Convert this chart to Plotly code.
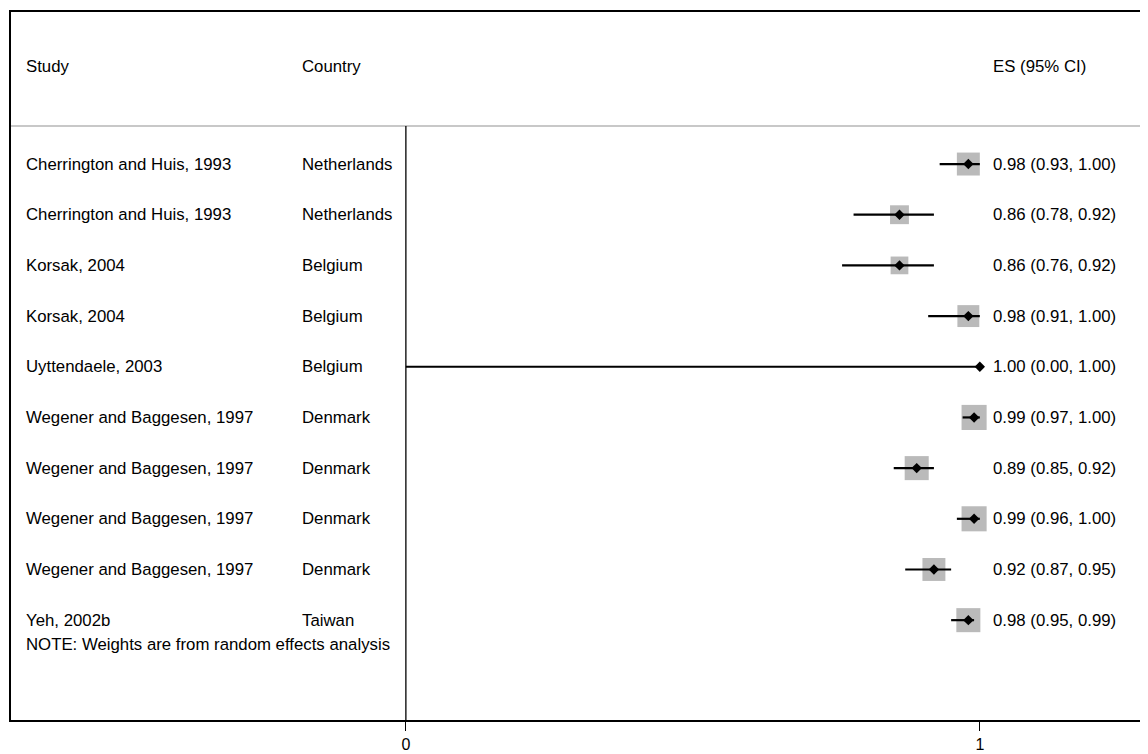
import plotly.graph_objects as go

studies = ["Cherrington and Huis, 1993", "Cherrington and Huis, 1993", "Korsak, 2004",
           "Korsak, 2004", "Uyttendaele, 2003", "Wegener and Baggesen, 1997",
           "Wegener and Baggesen, 1997", "Wegener and Baggesen, 1997",
           "Wegener and Baggesen, 1997", "Yeh, 2002b"]
countries = ["Netherlands", "Netherlands", "Belgium", "Belgium", "Belgium", "Denmark",
             "Denmark", "Denmark", "Denmark", "Taiwan"]
es = [0.98, 0.86, 0.86, 0.98, 1.00, 0.99, 0.89, 0.99, 0.92, 0.98]
lo = [0.93, 0.78, 0.76, 0.91, 0.00, 0.97, 0.85, 0.96, 0.87, 0.95]
hi = [1.00, 0.92, 0.92, 1.00, 1.00, 1.00, 0.92, 1.00, 0.95, 0.99]
weights = [11.4, 7.7, 6.8, 10.4, 0.02, 13.6, 12.5, 13.6, 11.4, 12.5]
xticks = [0, 1]
note = "NOTE: Weights are from random effects analysis"
headers = ["Study", "Country", "ES (95% CI)"]

rows = list(range(1, len(studies) + 1))
FONT = "Liberation Sans, Arial, sans-serif"

fig = go.Figure()

# weight squares (area proportional to weight)
fig.add_trace(go.Scatter(
    x=es, y=rows, mode="markers",
    marker=dict(symbol="square", size=[6.8 * w ** 0.5 for w in weights],
                color="#bababa", line=dict(width=0), opacity=1),
    hoverinfo="skip", showlegend=False))

# CI lines
cx, cy = [], []
for l, h, r in zip(lo, hi, rows):
    cx += [l, h, None]
    cy += [r, r, None]
fig.add_trace(go.Scatter(x=cx, y=cy, mode="lines",
                         line=dict(color="black", width=2.2),
                         hoverinfo="skip", showlegend=False))

# point estimates
fig.add_trace(go.Scatter(x=es, y=rows, mode="markers",
                         marker=dict(symbol="diamond", size=8, color="black"),
                         hoverinfo="skip", showlegend=False))

XS, XC, XE = -0.6655, -0.1847, 1.019
ann = []
def txt(x, y, t):
    ann.append(dict(x=x, y=y, xref="x", yref="y", text=t, showarrow=False,
                    xanchor="left", yanchor="middle",
                    font=dict(family=FONT, size=16.8, color="black")))

for xh, h in zip([XS, XC, XE], headers):
    txt(xh, -0.915, h)
for s, c, e, l, h, r in zip(studies, countries, es, lo, hi, rows):
    txt(XS, r, s)
    txt(XC, r, c)
    txt(XE, r, f"{e:.2f} ({l:.2f}, {h:.2f})")
txt(XS, 10.49, note)

# page body has an 8px margin; figure sized to fit the window
fig.update_layout(
    width=1140, height=746,
    margin=dict(l=3, r=0, t=4, b=34),
    paper_bgcolor="white", plot_bgcolor="white",
    annotations=ann,
    shapes=[
        dict(type="line", xref="paper", yref="y", x0=0, x1=1, y0=0.25, y1=0.25,
             line=dict(color="#c8c8c8", width=2)),
        dict(type="line", xref="x", yref="y", x0=0, x1=0, y0=0.25, y1=11.97,
             line=dict(color="black", width=1.3)),
    ],
)
fig.update_xaxes(range=[-0.688, 1.293], tickvals=xticks, ticktext=[str(t) for t in xticks],
                 showgrid=False, zeroline=False, showline=True, mirror=True,
                 linecolor="black", linewidth=1.5, ticks="outside", ticklen=9,
                 tickwidth=1.3, tickcolor="black", automargin=False,
                 tickfont=dict(family=FONT, size=16, color="black"))
fig.update_yaxes(range=[11.97, -2.0], showticklabels=False, showgrid=False,
                 zeroline=False, showline=True, linecolor="black", linewidth=1.5,
                 ticks="", automargin=False)

fig.write_html("out.html")
